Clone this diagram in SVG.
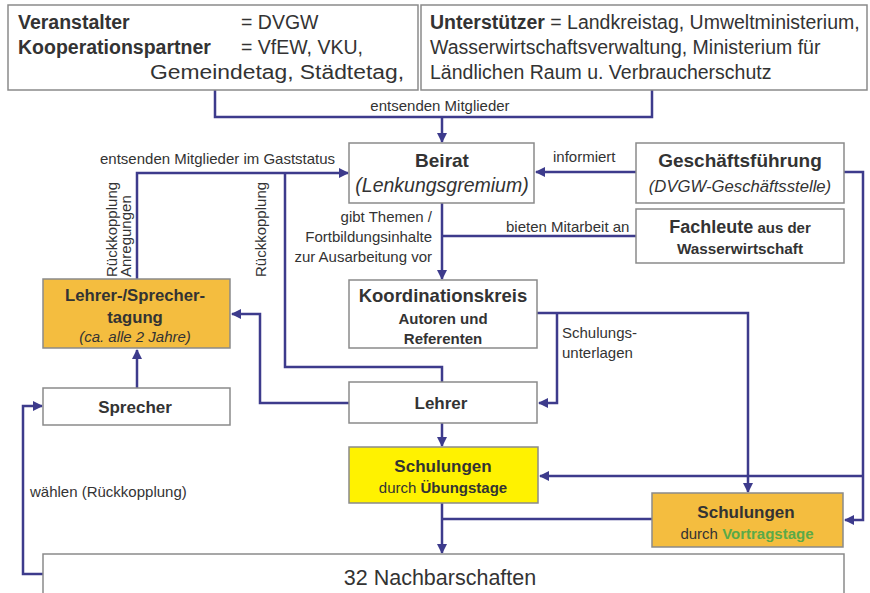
<svg xmlns="http://www.w3.org/2000/svg" width="870" height="593" viewBox="0 0 870 593">
<style>
text{font-family:"Liberation Sans",Arial,sans-serif;fill:#333}
.box{fill:#fff;stroke:#8a8a8a;stroke-width:1.5}
.or{fill:#f4bd3f;stroke:#8a8a8a;stroke-width:1.5}
.ye{fill:#fff200;stroke:#8a8a8a;stroke-width:1.5}
.b{font-weight:bold}
.i{font-style:italic}
.l{font-size:15px}
.c{text-anchor:middle}
.t{font-size:19.5px}
.con{fill:none;stroke:#3d3b8c;stroke-width:2.5}
</style>
<defs>
<marker id="ah" viewBox="0 0 10 10" refX="9" refY="5" markerWidth="4" markerHeight="4" orient="auto" markerUnits="strokeWidth">
<path d="M0,0 L10,5 L0,10 z" fill="#3d3b8c"/>
</marker>
</defs>

<g id="connectors">
<path class="con" d="M215,90 V117 H652 V90"/>
<path class="con" d="M442,117 V142" marker-end="url(#ah)"/>
<path class="con" d="M636,172 H536" marker-end="url(#ah)"/>
<path class="con" d="M442,203 V279" marker-end="url(#ah)"/>
<path class="con" d="M636,236 H442"/>
<path class="con" d="M137,279 V173 H348" marker-end="url(#ah)"/>
<path class="con" d="M442,382 V367 H285 V173"/>
<path class="con" d="M137,388 V350" marker-end="url(#ah)"/>
<path class="con" d="M349,403 H260 V314 H232" marker-end="url(#ah)"/>
<path class="con" d="M537,313 H748 V492" marker-end="url(#ah)"/>
<path class="con" d="M557,313 V403 H539" marker-end="url(#ah)"/>
<path class="con" d="M844,172 H863 V520 H845" marker-end="url(#ah)"/>
<path class="con" d="M863,476 H540" marker-end="url(#ah)"/>
<path class="con" d="M442,423 V446" marker-end="url(#ah)"/>
<path class="con" d="M442,503 V553" marker-end="url(#ah)"/>
<path class="con" d="M652,519 H442"/>
<path class="con" d="M43,574 H23 V406 H42" marker-end="url(#ah)"/>
<text class="l c" x="440" y="111">entsenden Mitglieder</text>
<text class="l" x="100" y="164">entsenden Mitglieder im Gaststatus</text>
<text class="l" x="553" y="162">informiert</text>
<text class="l" x="506" y="232">bieten Mitarbeit an</text>
<text class="l" text-anchor="end" x="432" y="222">gibt Themen /</text>
<text class="l" text-anchor="end" x="432" y="242">Fortbildungsinhalte</text>
<text class="l" text-anchor="end" x="432" y="262">zur Ausarbeitung vor</text>
<text class="l" transform="translate(117,277) rotate(-90)">Rückkopplung</text>
<text class="l" transform="translate(131,277) rotate(-90)">Anregungen</text>
<text class="l" transform="translate(266,277) rotate(-90)">Rückkopplung</text>
<text class="l" x="562" y="338">Schulungs-</text>
<text class="l" x="562" y="358">unterlagen</text>
<text class="l" x="30" y="497">wählen (Rückkopplung)</text>
</g>

<g id="veranstalter">
<rect class="box" x="8" y="5" width="410" height="85"/>
<text class="t" x="18" y="29"><tspan class="b">Veranstalter</tspan><tspan x="241">= DVGW</tspan></text>
<text class="t" x="18" y="54"><tspan class="b">Kooperationspartner</tspan><tspan x="241">=  VfEW, VKU,</tspan></text>
<text class="t" x="150" y="79" textLength="254" lengthAdjust="spacingAndGlyphs">Gemeindetag, Städtetag,</text>
</g>

<g id="unterstuetzer">
<rect class="box" x="421" y="5" width="446" height="85"/>
<text class="t" x="430" y="29"><tspan class="b">Unterstützer</tspan>  = Landkreistag, Umweltministerium,</text>
<text class="t" x="430" y="54">Wasserwirtschaftsverwaltung, Ministerium für</text>
<text class="t" x="430" y="79">Ländlichen Raum u. Verbraucherschutz</text>
</g>

<g id="beirat">
<rect class="box" x="349" y="143" width="185" height="60"/>
<text class="b c" x="442" y="167" font-size="19">Beirat</text>
<text class="i c" x="442" y="192" font-size="19.5">(Lenkungsgremium)</text>
</g>

<g id="geschaeftsfuehrung">
<rect class="box" x="636" y="143" width="208" height="60"/>
<text class="b c" x="740" y="167" font-size="19">Geschäftsführung</text>
<text class="i c" x="740" y="192" font-size="16.7">(DVGW-Geschäftsstelle)</text>
</g>

<g id="fachleute">
<rect class="box" x="636" y="209" width="208" height="54"/>
<text class="b c" x="740" y="233"><tspan font-size="18">Fachleute</tspan><tspan font-size="15"> aus der</tspan></text>
<text class="b c" x="740" y="254" font-size="15.3">Wasserwirtschaft</text>
</g>

<g id="koordinationskreis">
<rect class="box" x="349" y="280" width="188" height="68"/>
<text class="b c" x="443" y="302" font-size="18.5">Koordinationskreis</text>
<text class="b c" x="443" y="324" font-size="15">Autoren und</text>
<text class="b c" x="443" y="344" font-size="15">Referenten</text>
</g>

<g id="tagung">
<rect class="or" x="43" y="279" width="187" height="69"/>
<text class="b c" x="135" y="301" font-size="16.7">Lehrer-/Sprecher-</text>
<text class="b c" x="135" y="323" font-size="16.7">tagung</text>
<text class="i c" x="135" y="342" font-size="15">(ca. alle 2 Jahre)</text>
</g>

<g id="sprecher">
<rect class="box" x="43" y="388" width="187" height="37"/>
<text class="b c" x="135" y="413" font-size="17">Sprecher</text>
</g>

<g id="lehrer">
<rect class="box" x="349" y="382" width="188" height="41"/>
<text class="b c" x="441" y="409" font-size="17">Lehrer</text>
</g>

<g id="uebungstage">
<rect class="ye" x="349" y="447" width="189" height="56"/>
<text class="b c" x="443" y="472" font-size="17">Schulungen</text>
<text class="c" x="443" y="493" font-size="15">durch <tspan class="b">Übungstage</tspan></text>
</g>

<g id="vortragstage">
<rect class="or" x="652" y="493" width="191" height="54"/>
<text class="b c" x="746" y="518" font-size="17">Schulungen</text>
<text class="c" x="747" y="539" font-size="15">durch <tspan class="b" style="fill:#5aaa48">Vortragstage</tspan></text>
</g>

<g id="nachbarschaften">
<rect class="box" x="43" y="554" width="801" height="45"/>
<text class="c" x="440" y="585" font-size="21.5">32 Nachbarschaften</text>
</g>
</svg>
